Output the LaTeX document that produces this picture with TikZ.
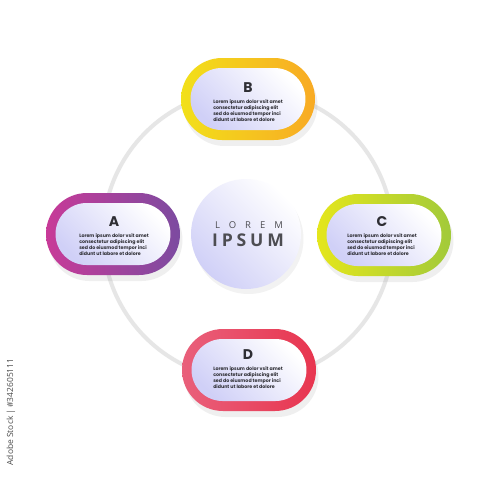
\documentclass[tikz,border=0pt]{standalone}
\usepackage{fontspec}
\setmainfont{Poppins}
\newfontfamily\hubfont{Open Sans}
\usetikzlibrary{shadows}

\definecolor{ink}{HTML}{2E2E34}
\definecolor{lav}{HTML}{D0D0F7}
\definecolor{ringgray}{HTML}{E6E6E6}
\definecolor{aleft}{HTML}{C83A98}
\definecolor{aright}{HTML}{7C4BA0}
\definecolor{bleft}{HTML}{F2E01A}
\definecolor{bright}{HTML}{F8AA24}
\definecolor{cleft}{HTML}{E4E61C}
\definecolor{cright}{HTML}{A2CA3A}
\definecolor{dleft}{HTML}{E9607B}
\definecolor{dright}{HTML}{E8354F}

\tikzset{
  pill/.style={rectangle, rounded corners=0.82cm, minimum width=2.68cm,
    minimum height=1.64cm, inner sep=0pt,
    drop shadow={opacity=0.12, shadow xshift=0.05cm, shadow yshift=-0.12cm}},
  pillin/.style={rectangle, rounded corners=0.62cm, minimum width=2.3cm,
    minimum height=1.24cm, inner sep=0pt,
    top color=lav, bottom color=white, shading angle=135},
  tag/.style={font=\bfseries\fontsize{8}{8}\selectfont, text=ink},
  body/.style={font=\bfseries\fontsize{2.7}{3.4}\selectfont, text=ink,
    align=left, inner sep=0pt}
}

\begin{document}
\begin{tikzpicture}[x=0.02cm,y=-0.02cm]
\useasboundingbox[fill=white] (0,0) rectangle (500,478);

% gray ring behind everything
\node[circle, draw=ringgray, line width=0.08cm, minimum size=5.8cm] (track) at (248,235) {};

% centre disc
\node[circle, minimum size=2.2cm, top color=lav, bottom color=white, shading angle=135,
  drop shadow={opacity=0.1, shadow xshift=0.05cm, shadow yshift=-0.1cm}] (hub) at (246,234) {};
\node[font=\hubfont\fontsize{5.4}{6}\selectfont\addfontfeature{LetterSpace=95}, text=ink!85] (lorem) at (249,225) {LOREM};
\node[font=\hubfont\bfseries\fontsize{10}{10}\selectfont\addfontfeature{LetterSpace=22}, text=ink!85] (ipsum) at (248,240) {IPSUM};

% A
\node[pill, left color=aleft, right color=aright] (capA) at (113,234) {};
\node[pillin] (insA) at (capA) {};
\node[tag] (tagA) at (114,222) {A};
\node[body] (txtA) at (114,245) {Lorem ipsum dolor vsit amet\\consectetur adipiscing elit\\sed do eiusmod tempor inci\\didunt ut labore et dolore};

% B
\node[pill, left color=bleft, right color=bright] (capB) at (248,99) {};
\node[pillin] (insB) at (capB) {};
\node[tag] (tagB) at (248,88) {B};
\node[body] (txtB) at (248,111) {Lorem ipsum dolor vsit amet\\consectetur adipiscing elit\\sed do eiusmod tempor inci\\didunt ut labore et dolore};

% C
\node[pill, left color=cleft, right color=cright] (capC) at (384,235) {};
\node[pillin] (insC) at (capC) {};
\node[tag] (tagC) at (382,222) {C};
\node[body] (txtC) at (382,245) {Lorem ipsum dolor vsit amet\\consectetur adipiscing elit\\sed do eiusmod tempor inci\\didunt ut labore et dolore};

% D
\node[pill, left color=dleft, right color=dright] (capD) at (249,370) {};
\node[pillin] (insD) at (capD) {};
\node[tag] (tagD) at (248,355) {D};
\node[body] (txtD) at (248,378) {Lorem ipsum dolor vsit amet\\consectetur adipiscing elit\\sed do eiusmod tempor inci\\didunt ut labore et dolore};

\node[rotate=90, font=\hubfont\fontsize{4.8}{5}\selectfont, text=black!70] (stock) at (11,412) {Adobe Stock | \#342605111};
\end{tikzpicture}
\end{document}
